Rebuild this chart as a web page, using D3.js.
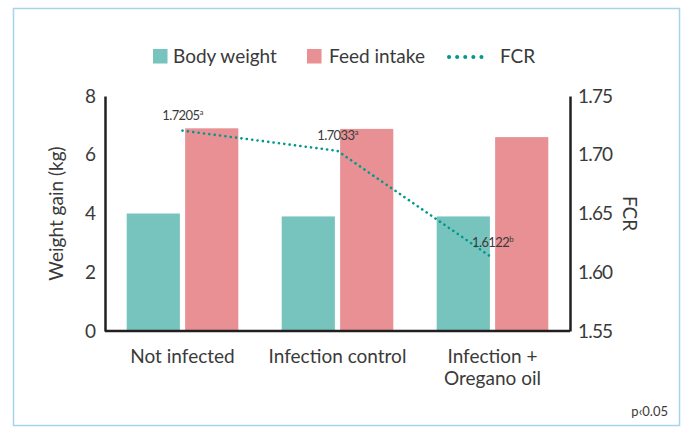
<!DOCTYPE html>
<html>
<head>
<meta charset="utf-8">
<script src="https://cdn.jsdelivr.net/npm/d3@7"></script>
<style>
  body { margin: 0; background: #fff; }
  svg { display: block; font-family: Lato, "Open Sans", sans-serif; }
</style>
</head>
<body>
<div id="chart"></div>
<script>
// Data
const categories = ['Not infected', 'Infection control', 'Infection + Oregano oil']
const categoryLines = [['Not infected'], ['Infection control'], ['Infection +', 'Oregano oil']]
const bodyWeight = [4.0, 3.9, 3.9]
const feedIntake = [6.9, 6.88, 6.6]
const fcr = [1.7205, 1.7033, 1.6122]
const fcrLetters = ['a', 'a', 'b']
const leftTicks = [0, 2, 4, 6, 8]
const rightTicks = [1.55, 1.60, 1.65, 1.70, 1.75]

const width = 683
const height = 430
const margin = { top: 96, right: 113, bottom: 99, left: 105 }

const teal = '#76c4bd'
const pink = '#e89094'
const lineColor = '#00998c'
const axisColor = '#231f20'
const textColor = '#3a3a3a'

const svg = d3.select('#chart')
  .append('svg')
  .attr('width', width)
  .attr('height', height)

// Frame
svg.append('rect')
  .attr('x', 13.5)
  .attr('y', 8.5)
  .attr('width', 666)
  .attr('height', 417)
  .attr('fill', 'none')
  .attr('stroke', '#a6d4ec')
  .attr('stroke-width', 1.5)

// Scales
const x0 = d3.scaleBand()
  .domain(categories)
  .range([margin.left, width - margin.right])
  .paddingInner(0.28)
  .paddingOuter(0.14)

const x1 = d3.scaleBand()
  .domain(['bw', 'fi'])
  .range([0, x0.bandwidth()])
  .paddingInner(0.09)

const y = d3.scaleLinear()
  .domain([0, 8])
  .range([height - margin.bottom, margin.top])

const y2 = d3.scaleLinear()
  .domain([1.55, 1.75])
  .range([height - margin.bottom, margin.top])

// Bars
const groups = svg.append('g')
  .selectAll('g')
  .data(categories)
  .join('g')
  .attr('transform', d => `translate(${x0(d)},0)`)

groups.append('rect')
  .attr('x', x1('bw'))
  .attr('width', x1.bandwidth())
  .attr('y', (d, i) => y(bodyWeight[i]))
  .attr('height', (d, i) => y(0) - y(bodyWeight[i]))
  .attr('fill', teal)

groups.append('rect')
  .attr('x', x1('fi'))
  .attr('width', x1.bandwidth())
  .attr('y', (d, i) => y(feedIntake[i]))
  .attr('height', (d, i) => y(0) - y(feedIntake[i]))
  .attr('fill', pink)

// Axes
const leftAxis = svg.append('g')
  .attr('transform', `translate(${margin.left},0)`)
  .call(d3.axisLeft(y).tickValues(leftTicks).tickSize(0).tickPadding(9))
leftAxis.select('.domain').attr('stroke', axisColor).attr('stroke-width', 2.5)
leftAxis.selectAll('text')
  .attr('font-size', 19)
  .attr('fill', textColor)
  .attr('font-family', 'Lato, sans-serif')

const rightAxis = svg.append('g')
  .attr('transform', `translate(${width - margin.right},0)`)
  .call(d3.axisRight(y2).tickValues(rightTicks).tickSize(0).tickPadding(8)
    .tickFormat(d3.format('.2f')))
rightAxis.select('.domain').attr('stroke', axisColor).attr('stroke-width', 2.5)
rightAxis.selectAll('text')
  .attr('font-size', 19)
  .attr('fill', textColor)
  .attr('letter-spacing', -0.8)
  .attr('font-family', 'Lato, sans-serif')

svg.append('line')
  .attr('x1', margin.left)
  .attr('x2', width - margin.right)
  .attr('y1', y(0))
  .attr('y2', y(0))
  .attr('stroke', axisColor)
  .attr('stroke-width', 2.5)

// Category labels
const catLabels = svg.append('g')
  .selectAll('text')
  .data(categories)
  .join('text')
  .attr('x', d => x0(d) + x0.bandwidth() / 2)
  .attr('y', y(0) + 32)
  .attr('text-anchor', 'middle')
  .attr('font-size', 19)
  .attr('fill', textColor)

catLabels.selectAll('tspan')
  .data((d, i) => categoryLines[i].map(t => ({ t, cx: x0(d) + x0.bandwidth() / 2 })))
  .join('tspan')
  .attr('x', d => d.cx)
  .attr('dy', (d, i) => i === 0 ? 0 : 22)
  .text(d => d.t)

// Axis titles
svg.append('text')
  .attr('transform', `translate(63,${(y(0) + y(8)) / 2}) rotate(-90)`)
  .attr('text-anchor', 'middle')
  .attr('font-size', 19)
  .attr('fill', textColor)
  .text('Weight gain (kg)')

svg.append('text')
  .attr('transform', `translate(623,${(y(0) + y(8)) / 2}) rotate(90)`)
  .attr('text-anchor', 'middle')
  .attr('font-size', 19)
  .attr('fill', textColor)
  .text('FCR')

// FCR line
const cx = d => x0(d) + x0.bandwidth() / 2
const line = d3.line()
  .x((d, i) => cx(categories[i]))
  .y(d => y2(d))

svg.append('path')
  .datum(fcr)
  .attr('d', line)
  .attr('fill', 'none')
  .attr('stroke', lineColor)
  .attr('stroke-width', 2.6)
  .attr('stroke-linecap', 'round')
  .attr('stroke-dasharray', '0.1 5.3')

// FCR value labels
const valueLabels = svg.append('g')
  .selectAll('text')
  .data(fcr)
  .join('text')
  .attr('x', (d, i) => cx(categories[i]))
  .attr('y', d => y2(d) - 11)
  .attr('text-anchor', 'middle')
  .attr('font-size', 13)
  .attr('letter-spacing', -0.6)
  .attr('fill', textColor)

valueLabels.append('tspan').text(d => d.toFixed(4))
valueLabels.append('tspan')
  .attr('font-size', 8)
  .attr('dy', -5)
  .text((d, i) => fcrLetters[i])

// Legend
const legend = svg.append('g')
legend.append('rect').attr('x', 153).attr('y', 49).attr('width', 14.5).attr('height', 14.5).attr('fill', teal)
legend.append('text').attr('x', 173).attr('y', 63).attr('font-size', 19).attr('fill', textColor).text('Body weight')
legend.append('rect').attr('x', 307).attr('y', 49).attr('width', 14.5).attr('height', 14.5).attr('fill', pink)
legend.append('text').attr('x', 329).attr('y', 63).attr('font-size', 19).attr('fill', textColor).text('Feed intake')
legend.append('line')
  .attr('x1', 449).attr('x2', 489).attr('y1', 57).attr('y2', 57)
  .attr('stroke', lineColor)
  .attr('stroke-width', 4)
  .attr('stroke-linecap', 'round')
  .attr('stroke-dasharray', '0.1 8')
legend.append('text').attr('x', 500).attr('y', 63).attr('font-size', 19).attr('fill', textColor).text('FCR')

// Significance note
svg.append('text')
  .attr('x', 668)
  .attr('y', 416)
  .attr('text-anchor', 'end')
  .attr('font-size', 13)
  .attr('fill', textColor)
  .text('p‹0.05')
</script>
</body>
</html>
